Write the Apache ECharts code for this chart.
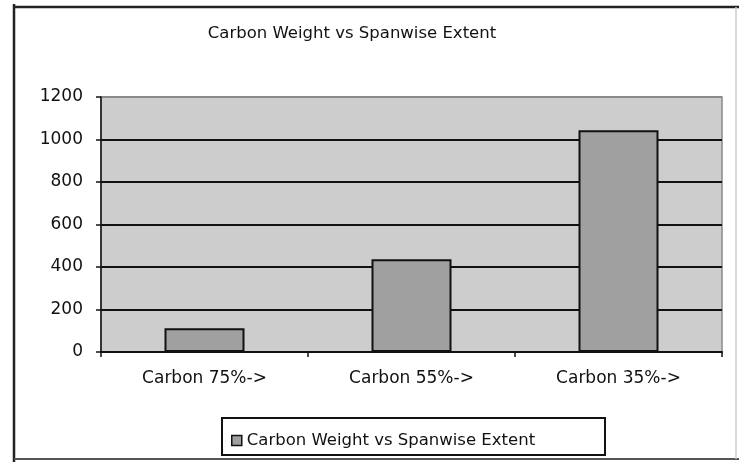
<!DOCTYPE html>
<html>
<head>
<meta charset="utf-8">
<script src="https://cdn.jsdelivr.net/npm/echarts@6/dist/echarts.min.js"></script>
<style>html,body{margin:0;padding:0;background:#fff;}#c{width:739px;height:462px;}</style>
</head>
<body>
<div id="c"></div>
<script>
const categories = ['Carbon 75%->', 'Carbon 55%->', 'Carbon 35%->'];
const weights = [112, 437, 1043];
const seriesName = 'Carbon Weight vs Spanwise Extent';
const titleText = 'Carbon Weight vs Spanwise Extent';

const chart = echarts.init(document.getElementById('c'), null, {renderer: 'canvas'});
const font = 'DejaVu Sans';
chart.setOption({
  animation: false,
  backgroundColor: '#ffffff',
  title: {
    text: titleText, left: 347, textAlign: 'center', top: 20,
    textStyle: {fontFamily: font, fontSize: 16.5, fontWeight: 'normal', color: '#111'}
  },
  grid: {
    left: 101, right: 17, top: 97, bottom: 110,
    show: true, backgroundColor: '#cdcdcd', borderColor: '#8a8a8a', borderWidth: 1.5
  },
  xAxis: {
    type: 'category', data: categories,
    axisLine: {lineStyle: {color: '#111', width: 2}},
    axisTick: {show: true, length: 5, lineStyle: {color: '#111', width: 1.5}},
    axisLabel: {fontFamily: font, fontSize: 17, color: '#111', margin: 18}
  },
  yAxis: {
    type: 'value', min: 0, max: 1200, interval: 200,
    axisLine: {show: true, lineStyle: {color: '#111', width: 1.5}},
    axisTick: {show: true, length: 5, lineStyle: {color: '#111', width: 1.5}},
    axisLabel: {fontFamily: font, fontSize: 17, color: '#111', margin: 18, formatter: function (v) { return String(v); }},
    splitLine: {show: true, lineStyle: {color: ['#111', '#111', '#111', '#111', '#111', '#111', '#8a8a8a'], width: 2}}
  },
  legend: {
    show: true, left: 226, top: 427, itemWidth: 10, itemHeight: 10, itemGap: 10,
    icon: 'rect',
    itemStyle: {borderColor: '#111', borderWidth: 1.5},
    textStyle: {fontFamily: font, fontSize: 16.5, color: '#111'},
    data: [seriesName]
  },
  series: [{
    name: seriesName, type: 'bar', data: weights, barWidth: 80,
    itemStyle: {color: '#a0a0a0', borderColor: '#111', borderWidth: 2},
    z: 3
  }],
  graphic: [
    {type: 'line', shape: {x1: 14, y1: 4, x2: 14, y2: 462}, style: {stroke: '#222', lineWidth: 2.5}, silent: true},
    {type: 'line', shape: {x1: 14, y1: 7, x2: 739, y2: 7}, style: {stroke: '#222', lineWidth: 2.5}, silent: true},
    {type: 'line', shape: {x1: 14, y1: 459, x2: 739, y2: 459}, style: {stroke: '#555', lineWidth: 2}, silent: true},
    {type: 'line', shape: {x1: 736, y1: 7, x2: 736, y2: 459}, style: {stroke: '#ccc', lineWidth: 1.5}, silent: true},
    {type: 'rect', shape: {x: 222, y: 418, width: 383, height: 37}, style: {fill: 'none', stroke: '#111', lineWidth: 2}, silent: true}
  ]
});
</script>
</body>
</html>
